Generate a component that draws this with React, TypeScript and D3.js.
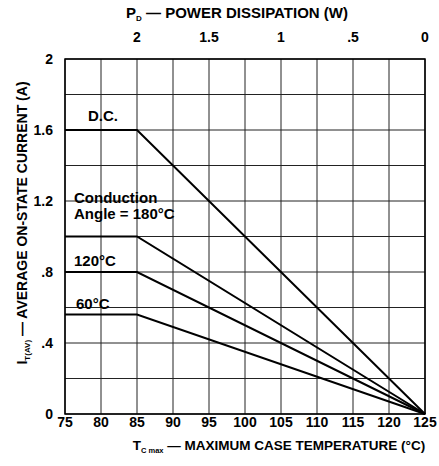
import React, { useRef, useEffect } from 'react';
import * as d3 from 'd3';

const tempTicks = [75, 80, 85, 90, 95, 100, 105, 110, 115, 120, 125];
const currentTicks = [0, 0.4, 0.8, 1.2, 1.6, 2];
const currentTickLabels = ['0', '.4', '.8', '1.2', '1.6', '2'];
const powerTicks = [2, 1.5, 1, 0.5, 0];
const powerTickLabels = ['2', '1.5', '1', '.5', '0'];

const seriesNames = ['D.C.', '180°', '120°', '60°'];
const seriesTemps = [75, 85, 125];
const seriesCurrents = [
  [1.6, 1.6, 0],
  [1.0, 1.0, 0],
  [0.8, 0.8, 0],
  [0.56, 0.56, 0],
];

const App = () => {
  const ref = useRef<SVGSVGElement>(null);

  useEffect(() => {
    const width = 439;
    const height = 466;
    const left = 65, right = 425, top = 59, bottom = 414;
    const font = '"Liberation Sans", Arial, sans-serif';

    const svg = d3.select(ref.current);
    svg.selectAll('*').remove();
    svg.attr('width', width).attr('height', height).attr('viewBox', [0, 0, width, height]);

    const x = d3.scaleLinear().domain([75, 125]).range([left, right]);
    const y = d3.scaleLinear().domain([0, 2]).range([bottom, top]);
    // power axis: 2W at 85°C, 0W at 125°C
    const p = d3.scaleLinear().domain([2, 0]).range([x(85), x(125)]);

    const grid = svg.append('g').attr('stroke', '#222').attr('stroke-width', 1);
    d3.range(75, 126, 5).forEach(t => {
      grid.append('line').attr('x1', x(t)).attr('x2', x(t)).attr('y1', top).attr('y2', bottom);
    });
    d3.range(0, 2.01, 0.2).forEach(v => {
      grid.append('line').attr('x1', left).attr('x2', right).attr('y1', y(v)).attr('y2', y(v));
    });
    svg.append('rect')
      .attr('x', left).attr('y', top).attr('width', right - left).attr('height', bottom - top)
      .attr('fill', 'none').attr('stroke', '#000').attr('stroke-width', 1.5);

    const line = d3.line<[number, number]>().x(d => x(d[0])).y(d => y(d[1]));
    seriesCurrents.forEach(vals => {
      svg.append('path')
        .datum(seriesTemps.map((t, i) => [t, vals[i]] as [number, number]))
        .attr('fill', 'none').attr('stroke', '#000').attr('stroke-width', 2)
        .attr('stroke-linejoin', 'miter')
        .attr('d', line);
    });

    const txt = svg.append('g')
      .attr('font-family', font).attr('font-weight', 'bold').attr('fill', '#000');

    tempTicks.forEach(t => {
      txt.append('text').attr('x', x(t)).attr('y', bottom + 13)
        .attr('text-anchor', 'middle').attr('font-size', 14).text(t);
    });
    currentTicks.forEach((v, i) => {
      txt.append('text').attr('x', left - 12).attr('y', y(v) + 5)
        .attr('text-anchor', 'end').attr('font-size', 14).text(currentTickLabels[i]);
    });
    powerTicks.forEach((v, i) => {
      txt.append('text').attr('x', p(v)).attr('y', 42)
        .attr('text-anchor', 'middle').attr('font-size', 14).text(powerTickLabels[i]);
    });

    // top title
    const tt = txt.append('text').attr('x', 237).attr('y', 18).attr('text-anchor', 'middle').attr('font-size', 15);
    tt.append('tspan').text('P');
    tt.append('tspan').attr('font-size', 8).attr('dy', 3).text('D');
    tt.append('tspan').attr('dy', -3).text(' — POWER DISSIPATION (W)');

    // bottom title
    const bt = txt.append('text').attr('x', 279).attr('y', 450).attr('text-anchor', 'middle').attr('font-size', 13.5);
    bt.append('tspan').text('T');
    bt.append('tspan').attr('font-size', 7.5).attr('dy', 3).text('C max');
    bt.append('tspan').attr('dy', -3).text(' — MAXIMUM CASE TEMPERATURE (°C)');

    // y title
    const yt = txt.append('text').attr('transform', `translate(27,223) rotate(-90)`)
      .attr('text-anchor', 'middle').attr('font-size', 14);
    yt.append('tspan').text('I');
    yt.append('tspan').attr('font-size', 8).attr('dy', 3).text('T(AV)');
    yt.append('tspan').attr('dy', -3).text(' — AVERAGE ON-STATE CURRENT (A)');

    // curve labels
    const lab = txt.append('g').attr('font-size', 15);
    lab.append('text').attr('x', 88).attr('y', y(1.6) - 9).text(seriesNames[0]);
    lab.append('text').attr('x', 74).attr('y', y(1.0) - 34).text('Conduction');
    lab.append('text').attr('x', 74).attr('y', y(1.0) - 18).text('Angle = 180°C');
    lab.append('text').attr('x', 74).attr('y', y(0.8) - 6).text('120°C');
    lab.append('text').attr('x', 76).attr('y', y(0.56) - 6).text('60°C');
  }, []);

  return <svg ref={ref} style={{ display: 'block', position: 'absolute', left: 0, top: 0 }}></svg>;
};

export default App;
